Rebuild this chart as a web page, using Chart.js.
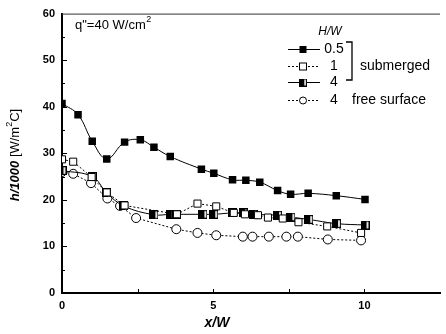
<!DOCTYPE html>
<html>
<head>
<meta charset="utf-8">
<script src="https://cdn.jsdelivr.net/npm/chart.js@4.4.1/dist/chart.umd.min.js"></script>
<style>
  html, body { margin: 0; padding: 0; background: #fff; }
</style>
</head>
<body>
<canvas id="chart" width="446" height="334"></canvas>
<script>
// tick labels
const xTicks = [0, 5, 10];
const yTicks = [0, 10, 20, 30, 40, 50, 60];

// H/W = 0.5 submerged
const xHalf = [0, 0.53, 1.0, 1.48, 2.07, 2.59, 3.04, 3.58, 4.61, 5.02, 5.64, 6.08, 6.54, 7.13, 7.56, 8.14, 9.07, 10.02];
const yHalf = [40.7, 38.3, 32.6, 28.8, 32.4, 32.9, 31.3, 29.3, 26.6, 25.7, 24.3, 24.2, 23.8, 22.0, 21.2, 21.4, 20.9, 20.1];

// H/W = 1 submerged
const xOne = [0, 0.37, 0.98, 1.48, 2.07, 3.8, 4.48, 5.1, 5.68, 6.05, 6.48, 6.81, 7.3, 7.82, 8.77, 9.89];
const yOne = [28.7, 28.2, 24.9, 21.6, 18.8, 16.9, 19.2, 18.6, 17.2, 16.9, 16.7, 16.2, 16.0, 15.2, 14.3, 12.9];

// H/W = 4 submerged
const xFour = [0, 1.0, 1.48, 2.04, 3.04, 3.58, 3.8, 4.66, 5.02, 5.63, 6.0, 6.32, 7.13, 7.57, 8.16, 9.08, 10.02];
const yFour = [26.3, 25.0, 21.5, 18.7, 16.8, 16.9, 16.9, 16.9, 16.9, 17.2, 17.2, 16.9, 16.7, 16.3, 15.8, 14.9, 14.6];

// H/W = 4 free surface
const xFree = [0, 0.37, 0.96, 1.5, 1.92, 2.45, 3.78, 4.48, 5.1, 5.98, 6.3, 6.84, 7.42, 7.8, 8.79, 9.89];
const yFree = [26.0, 25.6, 23.6, 20.3, 18.7, 16.1, 13.7, 12.9, 12.4, 12.1, 12.1, 12.1, 12.1, 12.1, 11.5, 11.3];

function pts(xs, ys) {
  return xs.map((x, i) => ({ x: x, y: ys[i] }));
}

function halfSquare(size) {
  const c = document.createElement('canvas');
  c.width = size; c.height = size;
  const g = c.getContext('2d');
  g.fillStyle = '#fff';
  g.fillRect(0, 0, size, size);
  g.fillStyle = '#000';
  g.fillRect(0, 0, Math.ceil(size / 2) + 1, size);
  g.strokeStyle = '#000';
  g.lineWidth = 1.2;
  g.strokeRect(0.6, 0.6, size - 1.2, size - 1.2);
  return c;
}
const halfSq = halfSquare(9);

const FONT = '"Liberation Sans", Arial, sans-serif';

function drawMarker(ctx, kind, x, y) {
  ctx.save();
  ctx.lineWidth = 1;
  ctx.strokeStyle = '#000';
  ctx.setLineDash([]);
  if (kind === 'filled') {
    ctx.fillStyle = '#000';
    ctx.fillRect(x - 3.5, y - 3.5, 7, 7);
  } else if (kind === 'open') {
    ctx.fillStyle = '#fff';
    ctx.fillRect(x - 3.5, y - 3.5, 7, 7);
    ctx.strokeRect(x - 3.5, y - 3.5, 7, 7);
  } else if (kind === 'half') {
    ctx.drawImage(halfSq, x - 4, y - 4, 8, 8);
  } else {
    ctx.fillStyle = '#fff';
    ctx.beginPath();
    ctx.arc(x, y, 3.5, 0, Math.PI * 2);
    ctx.fill();
    ctx.stroke();
  }
  ctx.restore();
}

const extras = {
  id: 'extras',
  beforeDatasetsDraw(chart) {
    const ctx = chart.ctx;
    const xs = chart.scales.x, ys = chart.scales.y;
    const a = chart.chartArea;
    ctx.save();
    ctx.strokeStyle = '#000';
    ctx.lineWidth = 1;
    // top frame line
    ctx.strokeStyle = '#333';
    ctx.beginPath();
    ctx.moveTo(a.left, a.top + 0.5);
    ctx.lineTo(a.right, a.top + 0.5);
    ctx.stroke();
    // inner ticks on y
    ctx.strokeStyle = '#000';
    for (let v = 5; v < 60; v += 5) {
      const py = Math.round(ys.getPixelForValue(v)) + 0.5;
      const len = v % 10 === 0 ? 5 : 3;
      ctx.beginPath();
      ctx.moveTo(a.left, py);
      ctx.lineTo(a.left + len, py);
      ctx.stroke();
    }
    // inner ticks on x
    for (let v = 2.5; v <= 10; v += 2.5) {
      const px = Math.round(xs.getPixelForValue(v)) + 0.5;
      ctx.beginPath();
      ctx.moveTo(px, a.bottom);
      ctx.lineTo(px, a.bottom - 4);
      ctx.stroke();
    }
    ctx.restore();
  },
  afterDraw(chart) {
    const ctx = chart.ctx;
    ctx.save();
    ctx.fillStyle = '#000';
    ctx.textBaseline = 'middle';

    // heat flux note
    ctx.font = '13px ' + FONT;
    ctx.textAlign = 'left';
    const qText = 'q"=40 W/cm';
    ctx.fillText(qText, 75, 25);
    const qw = ctx.measureText(qText).width;
    ctx.font = '9px ' + FONT;
    ctx.fillText('2', 75 + qw + 0.5, 20);

    // legend
    ctx.font = 'italic 12px ' + FONT;
    ctx.textAlign = 'center';
    ctx.fillText('H/W', 330, 32);

    const rows = [
      { y: 49, dash: [], kind: 'filled', label: '0.5' },
      { y: 66, dash: [2, 2], kind: 'open', label: '1' },
      { y: 82, dash: [], kind: 'half', label: '4' },
      { y: 100, dash: [2, 2], kind: 'circle', label: '4' }
    ];
    ctx.font = '14px ' + FONT;
    rows.forEach(r => {
      ctx.save();
      ctx.strokeStyle = '#000';
      ctx.lineWidth = 1;
      ctx.setLineDash(r.dash);
      ctx.beginPath();
      ctx.moveTo(288, r.y + 0.5);
      ctx.lineTo(320, r.y + 0.5);
      ctx.stroke();
      ctx.restore();
      drawMarker(ctx, r.kind, 303, r.y + 0.5);
      ctx.textAlign = 'center';
      ctx.fillText(r.label, 334, r.y);
    });
    ctx.textAlign = 'left';
    ctx.fillText('submerged', 360, 66);
    ctx.fillText('free surface', 352, 100);

    // bracket
    ctx.strokeStyle = '#000';
    ctx.lineWidth = 1.3;
    ctx.beginPath();
    ctx.moveTo(346, 42);
    ctx.lineTo(352, 42);
    ctx.lineTo(352, 80);
    ctx.lineTo(346, 80);
    ctx.stroke();

    // x axis title
    ctx.font = 'bold italic 14px ' + FONT;
    ctx.textAlign = 'center';
    ctx.fillText('x/W', 217, 323);

    // y axis title, rotated
    ctx.translate(15, 155);
    ctx.rotate(-Math.PI / 2);
    const partA = 'h/1000';
    const partB = ' [W/m';
    const partC = 'C]';
    ctx.font = 'bold italic 13px ' + FONT;
    const wa = ctx.measureText(partA).width;
    ctx.font = '13px ' + FONT;
    const wb = ctx.measureText(partB).width;
    const wc = ctx.measureText(partC).width;
    ctx.font = '9px ' + FONT;
    const ws = ctx.measureText('2').width;
    let x0 = -(wa + wb + ws + wc) / 2;
    ctx.textAlign = 'left';
    ctx.font = 'bold italic 13px ' + FONT;
    ctx.fillText(partA, x0, 0);
    x0 += wa;
    ctx.font = '13px ' + FONT;
    ctx.fillText(partB, x0, 0);
    x0 += wb;
    ctx.font = '9px ' + FONT;
    ctx.fillText('2', x0, -5);
    x0 += ws;
    ctx.font = '13px ' + FONT;
    ctx.fillText(partC, x0, 0);
    ctx.restore();
  }
};

const tickFont = { family: FONT, size: 11, weight: 'bold' };

new Chart(document.getElementById('chart'), {
  type: 'scatter',
  data: {
    datasets: [
      {
        label: '0.5',
        data: pts(xHalf, yHalf),
        showLine: true,
        tension: 0.4,
        borderColor: '#000',
        borderWidth: 1,
        backgroundColor: '#000',
        pointStyle: 'rect',
        pointRadius: 5.3,
        pointBorderWidth: 0
      },
      {
        label: '1',
        data: pts(xOne, yOne),
        showLine: true,
        tension: 0,
        borderColor: '#000',
        borderWidth: 1,
        borderDash: [2, 2],
        backgroundColor: '#fff',
        pointStyle: 'rect',
        pointRadius: 5,
        pointBorderWidth: 1
      },
      {
        label: '4',
        data: pts(xFour, yFour),
        showLine: true,
        tension: 0.4,
        borderColor: '#000',
        borderWidth: 1,
        backgroundColor: '#fff',
        pointStyle: halfSq,
        pointRadius: 4.5
      },
      {
        label: '4 free surface',
        data: pts(xFree, yFree),
        showLine: true,
        tension: 0,
        borderColor: '#000',
        borderWidth: 1,
        borderDash: [2, 2],
        backgroundColor: '#fff',
        pointStyle: 'circle',
        pointRadius: 4.5,
        pointBorderWidth: 1
      }
    ]
  },
  options: {
    responsive: false,
    animation: false,
    layout: { padding: { top: 13, right: 0, bottom: 0, left: 0 } },
    plugins: {
      legend: { display: false },
      tooltip: { enabled: false }
    },
    scales: {
      x: {
        type: 'linear',
        min: 0,
        max: 12.5,
        afterBuildTicks: s => { s.ticks = xTicks.map(v => ({ value: v })); },
        afterFit: s => { s.height = 41; },
        ticks: { font: tickFont, color: '#000', padding: 6, maxRotation: 0, autoSkip: false },
        grid: { display: false, drawTicks: false },
        border: { display: true, color: '#000', width: 2 }
      },
      y: {
        type: 'linear',
        min: 0,
        max: 60,
        afterBuildTicks: s => { s.ticks = yTicks.map(v => ({ value: v })); },
        afterFit: s => { s.width = 62; },
        ticks: { font: tickFont, color: '#000', padding: 7, autoSkip: false },
        grid: { display: false, drawTicks: false },
        border: { display: true, color: '#000', width: 2 }
      }
    }
  },
  plugins: [extras]
});
</script>
</body>
</html>
